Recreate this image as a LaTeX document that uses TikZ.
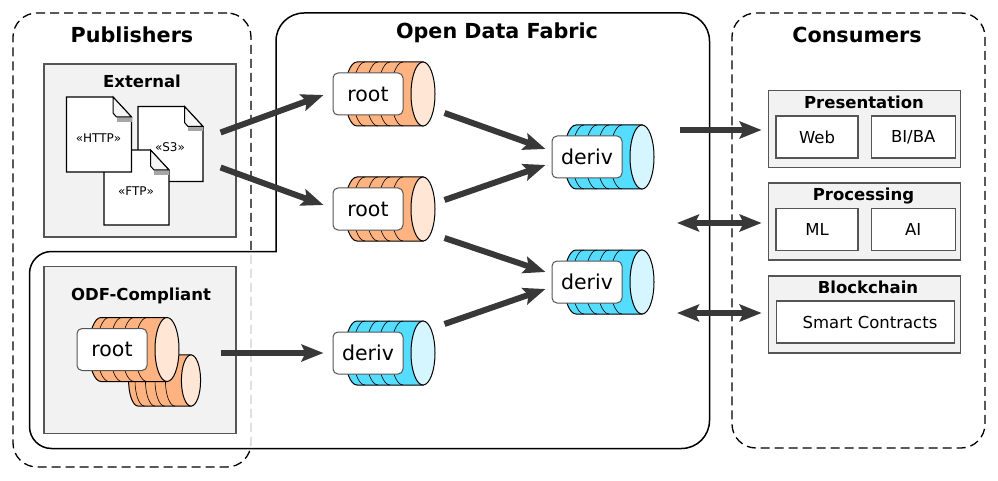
\documentclass[tikz,border=0pt]{standalone}
\usepackage{fontspec}
\setmainfont{DejaVu Sans}
\usetikzlibrary{arrows.meta,positioning}
\definecolor{rootbody}{HTML}{FFB380}
\definecolor{rootcap}{HTML}{FFE6D5}
\definecolor{derivbody}{HTML}{55DDFF}
\definecolor{derivcap}{HTML}{D5F6FF}
\definecolor{boxgrey}{HTML}{F2F2F2}
\definecolor{boxline}{HTML}{555555}
\definecolor{flowgrey}{HTML}{383838}

% body of one stacked dataset: position, scale, body colour, cap colour
\newcommand{\stackbody}[4]{
  \begin{scope}[shift={#1},scale=#2,line width=1pt]
    \draw[fill=#3] (0,-32) -- (-66,-32) arc[start angle=90,end angle=270,x radius=12pt,y radius=32pt] -- (0,32) -- cycle;
    \foreach \sx in {-58,-45,-33,-20} {
      \draw[line width=.6pt] (\sx,-32) arc[start angle=90,end angle=270,x radius=12pt,y radius=32pt];
    }
    \draw[fill=#4] (0,0) ellipse[x radius=12pt,y radius=32pt];
  \end{scope}
}
% one file: position, node name, text
\newcommand{\filedoc}[3]{
  \begin{scope}[shift={#1}]
    \draw[fill=white,line width=1.2pt] (0,0) -- (46.5,0) -- (65,20) -- (65,75) -- (0,75) -- cycle;
    \fill[black!35] (50,20) -- (65,20) -- (65,25) -- (50,25) -- cycle;
    \draw[fill=black!4,line width=1pt] (46.5,0) -- (65,20) -- (50,20) -- (46.5,16) -- cycle;
    \node[filetext] (#2) at (32,41) {#3};
  \end{scope}
}

\begin{document}
\begin{tikzpicture}[
    x=1pt,y=-1pt,
    flow/.style={line width=6pt,draw=flowgrey,-{Stealth[length=22pt,width=17pt,inset=4pt]}},
    twoflow/.style={line width=6pt,draw=flowgrey,{Stealth[length=22pt,width=17pt,inset=4pt]}-{Stealth[length=22pt,width=17pt,inset=4pt]}},
    group/.style={draw,dashed,dash pattern=on 9pt off 5pt,line width=1.3pt,rounded corners=24pt,inner sep=0pt},
    heading/.style={font=\fontsize{20.7}{24}\selectfont\bfseries},
    subheading/.style={font=\fontsize{16.5}{18}\selectfont\bfseries},
    greybox/.style={draw=boxline,fill=boxgrey,line width=1.2pt,inner sep=0pt},
    infobox/.style={draw=boxline,fill=white,line width=1.2pt,inner sep=0pt,font=\fontsize{16.5}{18}\selectfont,minimum height=42pt},
    stacklabel/.style={draw=boxline,fill=white,line width=1pt,rounded corners=5pt,inner sep=0pt,minimum width=70pt,minimum height=42pt,font=\fontsize{20.5}{22}\selectfont},
    filetext/.style={inner sep=0pt,font=\fontsize{12}{14}\selectfont},
]
  \useasboundingbox (0,0) rectangle (998,481);

  \node[group,minimum width=238pt,minimum height=454pt] (publishers) at (132,240) {};
  \node[group,minimum width=253pt,minimum height=435pt] (consumers) at (858.5,230.5) {};
  \draw[fill=white,fill opacity=.82,line width=1.5pt,rounded corners=28pt]
    (276,251.5) -- (276,13) -- (709.5,13) -- (709.5,448.5)
    [rounded corners=22pt] -- (29.5,448.5) -- (29.5,251.5) [sharp corners] -- cycle;

  \node[heading] (publisherstitle) at (132,34.5) {Publishers};
  \node[heading] (fabrictitle) at (497,33) {Open Data Fabric};
  \node[heading] (consumerstitle) at (857,34.5) {Consumers};

  \node[greybox,minimum width=192pt,minimum height=173pt] (external) at (140,150.5) {};
  \node[subheading] (externaltitle) at (142,81.5) {External};
  \filedoc{(138,106.5)}{s3}{«S3»}
  \filedoc{(104,150)}{ftp}{«FTP»}
  \filedoc{(66.5,97)}{http}{«HTTP»}

  \node[greybox,minimum width=192pt,minimum height=167pt] (compliant) at (140,350) {};
  \node[subheading] (complianttitle) at (141,295.5) {ODF-Compliant};
  \stackbody{(191,380.5)}{.8}{rootbody}{rootcap}
  \stackbody{(167,349.5)}{1}{rootbody}{rootcap}
  \node[stacklabel] (rootodf) at (112,349.5) {root};

  \stackbody{(423,94)}{1}{rootbody}{rootcap}
  \node[stacklabel] (root1) at (368,94) {root};
  \stackbody{(423,209)}{1}{rootbody}{rootcap}
  \node[stacklabel] (root2) at (368,209) {root};
  \stackbody{(423,353)}{1}{derivbody}{derivcap}
  \node[stacklabel] (deriv3) at (368,353) {deriv};
  \stackbody{(642,157)}{1}{derivbody}{derivcap}
  \node[stacklabel] (deriv1) at (587,157) {deriv};
  \stackbody{(642,282)}{1}{derivbody}{derivcap}
  \node[stacklabel] (deriv2) at (587,282) {deriv};

  \node[greybox,minimum width=192.5pt,minimum height=77pt] (presentation) at (864.5,129) {};
  \node[subheading] (presentationtitle) at (864,102.5) {Presentation};
  \node[infobox,minimum width=82pt] (web) at (817,137) {Web};
  \node[infobox,minimum width=84pt] (biba) [right=12pt of web] {BI/BA};

  \node[greybox,minimum width=192.5pt,minimum height=77pt] (processing) at (864.5,221.5) {};
  \node[subheading] (processingtitle) at (863.5,196) {Processing};
  \node[infobox,minimum width=82pt] (ml) at (817,229.5) {ML};
  \node[infobox,minimum width=84pt] (ai) [right=12pt of ml] {AI};

  \node[greybox,minimum width=192.5pt,minimum height=77pt] (blockchain) at (864.5,314.5) {};
  \node[subheading] (blockchaintitle) at (868,287.5) {Blockchain};
  \node[infobox,minimum width=178pt] (contracts) at (865.5,322) {\hspace{9pt}Smart Contracts};

  \coordinate (out1) at (680,130);
  \coordinate (out2) at (677,223);
  \coordinate (out3) at (677,313);

  \draw[flow] ([shift={(-16pt,18pt)}]external.east) -- ([shift={(-9pt,-1pt)}]root1.west);
  \draw[flow] ([shift={(-16pt,-17pt)}]external.east) -- ([shift={(-9pt,4pt)}]root2.west);
  \draw[flow] ([shift={(-16pt,-3pt)}]compliant.east) -- ([xshift=-9pt]deriv3.west);

  \draw[flow] ([shift={(41pt,-19pt)}]root1.east) -- ([shift={(-6pt,8pt)}]deriv1.west);
  \draw[flow] ([shift={(41pt,9pt)}]root2.east) -- ([shift={(-6pt,-8pt)}]deriv1.west);
  \draw[flow] ([shift={(41pt,-29pt)}]root2.east) -- ([shift={(-6pt,10pt)}]deriv2.west);
  \draw[flow] ([shift={(41pt,29pt)}]deriv3.east) -- ([shift={(-6pt,-7pt)}]deriv2.west);

  \draw[flow] (out1) -- ([xshift=-6pt]presentation.west |- out1);
  \draw[twoflow] (out2) -- ([xshift=-6pt]processing.west |- out2);
  \draw[twoflow] (out3) -- ([xshift=-6pt]blockchain.west |- out3);
\end{tikzpicture}
\end{document}
